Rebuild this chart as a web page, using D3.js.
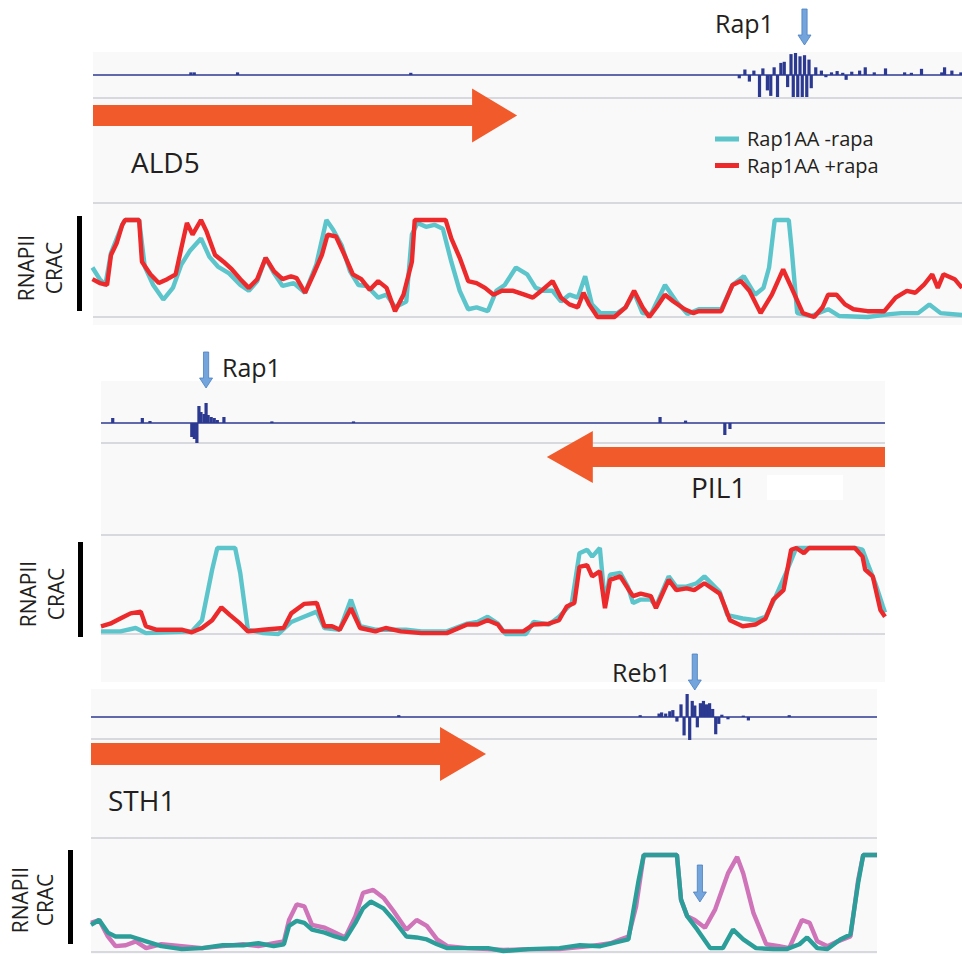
<!DOCTYPE html>
<html>
<head>
<meta charset="utf-8">
<script src="https://cdn.jsdelivr.net/npm/d3@7"></script>
<style>
  body { margin: 0; background: #fff; }
  text { font-family: "Open Sans", sans-serif; fill: #231f20; }
</style>
</head>
<body>
<svg id="svg_1"></svg>
<script>
// ---- data (positions are genomic bins along each locus) ----
var seriesNames = ["Rap1AA -rapa", "Rap1AA +rapa"];
var geneNames = ["ALD5", "PIL1", "STH1"];
var factorNames = ["Rap1", "Rap1", "Reb1"];

// ALD5 locus
var ald5ChipPos = [197,203,280,588,1172,1182,1190,1198,1208,1214,1222,1228,1234,1240,1246,1252,1258,1264,1268,1272,1276,1280,1284,1288,1292,1296,1300,1308,1318,1326,1336,1346,1356,1362,1372,1386,1396,1412,1432,1466,1478,1496,1532,1537,1550,1566];
var ald5ChipVal = [0.12,0.12,0.12,0.1,-0.15,0.25,-0.3,0.2,-1.0,0.3,-0.7,-0.95,0.35,-1.0,0.55,0.6,-0.55,0.95,-1.0,1.0,-1.0,0.85,-1.0,0.9,-1.0,0.7,-0.6,0.35,0.2,-0.1,0.12,0.18,0.1,-0.22,0.15,0.2,0.35,0.12,0.3,0.12,0.1,0.28,0.12,0.35,0.2,0.12];
var ald5MinusPos = [22,35,45,55,75,80,105,115,130,148,165,180,195,215,230,245,265,285,300,315,330,345,360,380,400,420,438,450,465,480,495,510,530,545,560,580,590,600,615,630,645,660,675,690,705,725,740,755,775,795,810,825,840,855,870,885,898,910,925,955,970,985,1000,1015,1040,1060,1080,1100,1140,1160,1180,1200,1215,1225,1235,1260,1265,1275,1300,1330,1350,1400,1440,1460,1490,1510,1530,1568];
var ald5MinusVal = [0.51,0.39,0.33,0.66,0.95,1.0,1.0,0.52,0.33,0.18,0.30,0.54,0.68,0.81,0.62,0.52,0.45,0.33,0.27,0.37,0.61,0.45,0.32,0.35,0.25,0.54,1.0,0.90,0.74,0.47,0.33,0.32,0.20,0.23,0.10,0.16,0.85,0.97,0.93,0.95,0.91,0.57,0.27,0.08,0.10,0.06,0.27,0.33,0.51,0.44,0.30,0.27,0.27,0.16,0.23,0.20,0.42,0.13,0.04,0.04,0.10,0.25,0.04,0.03,0.33,0.16,0.03,0.08,0.08,0.33,0.42,0.23,0.30,0.51,1.0,1.0,0.71,0.04,0.01,0.08,0.01,0.0,0.03,0.04,0.04,0.13,0.04,0.02];
var ald5PlusPos = [22,35,48,55,65,75,80,105,110,125,140,155,170,180,190,200,215,225,240,255,270,285,300,315,330,345,360,375,385,400,415,430,440,455,470,485,500,515,530,545,560,575,590,595,650,660,675,690,705,720,735,750,770,790,805,820,840,855,870,885,895,905,920,950,970,985,1000,1012,1025,1040,1055,1075,1090,1100,1140,1160,1175,1190,1210,1230,1250,1265,1285,1305,1320,1330,1345,1360,1375,1400,1430,1450,1470,1485,1500,1515,1525,1535,1555,1568];
var ald5PlusVal = [0.39,0.35,0.33,0.64,0.76,0.95,1.0,1.0,0.57,0.44,0.35,0.39,0.44,0.71,0.97,0.85,1.0,0.88,0.64,0.57,0.49,0.39,0.30,0.39,0.61,0.47,0.39,0.42,0.40,0.25,0.44,0.64,0.85,0.83,0.64,0.44,0.39,0.28,0.37,0.30,0.06,0.23,0.57,1.0,1.0,0.81,0.61,0.37,0.35,0.30,0.23,0.27,0.27,0.23,0.20,0.27,0.37,0.20,0.13,0.10,0.25,0.13,0,0,0.10,0.27,0.10,0,0.10,0.23,0.16,0.08,0.04,0.06,0.06,0.33,0.37,0.27,0.04,0.23,0.49,0.30,0.04,0,0.10,0.23,0.23,0.13,0.08,0.06,0.06,0.20,0.27,0.25,0.33,0.44,0.30,0.44,0.39,0.30];

// PIL1 locus
var pil1ChipPos = [45,103,118,200,205,210,214,218,224,228,232,238,244,250,263,357,517,1118,1168,1245,1255];
var pil1ChipVal = [0.25,0.25,0.1,-0.7,-0.8,-1.0,0.85,0.55,0.45,1.0,0.4,0.3,0.25,0.15,0.3,0.08,0.08,0.3,0.12,-0.6,-0.3];
var pil1MinusPos = [22,60,90,110,150,200,220,240,250,285,295,310,340,370,395,420,445,460,490,512,530,560,620,650,700,740,760,780,800,815,855,870,900,920,945,960,975,985,1000,1010,1020,1040,1055,1065,1080,1100,1110,1135,1150,1170,1190,1205,1235,1250,1280,1305,1325,1345,1365,1385,1500,1515,1525,1540,1555,1559];
var pil1MinusVal = [0.03,0.03,0.07,0.01,0.02,0.03,0.16,0.75,1.0,1.0,0.71,0.05,0.01,0.0,0.14,0.20,0.26,0.07,0.05,0.40,0.09,0.05,0.05,0.03,0.03,0.12,0.14,0.20,0.12,0.0,0.0,0.14,0.11,0.20,0.36,0.94,0.98,0.90,1.0,0.36,0.69,0.71,0.55,0.36,0.40,0.40,0.32,0.67,0.55,0.55,0.59,0.67,0.49,0.22,0.18,0.16,0.20,0.44,0.71,1.0,1.0,0.98,0.82,0.59,0.32,0.25];
var pil1PlusPos = [22,40,60,80,100,110,130,160,180,200,220,240,258,275,295,310,340,380,395,420,445,460,475,490,512,530,560,580,610,650,700,740,760,780,800,810,850,870,900,920,935,950,960,975,985,1000,1010,1020,1040,1055,1065,1080,1100,1110,1135,1150,1170,1185,1205,1235,1245,1255,1280,1305,1325,1340,1360,1375,1385,1400,1410,1500,1515,1520,1535,1550,1559];
var pil1PlusVal = [0.09,0.12,0.18,0.24,0.26,0.09,0.05,0.05,0.05,0.02,0.07,0.16,0.31,0.22,0.12,0.03,0.05,0.07,0.24,0.35,0.36,0.09,0.09,0.05,0.30,0.07,0.03,0.07,0.03,0.01,0.01,0.11,0.11,0.16,0.11,0.03,0.03,0.11,0.12,0.16,0.32,0.36,0.78,0.80,0.67,0.73,0.30,0.63,0.67,0.53,0.44,0.47,0.44,0.30,0.63,0.51,0.53,0.51,0.59,0.47,0.32,0.16,0.09,0.11,0.18,0.40,0.51,0.98,1.0,0.94,1.0,1.0,0.90,0.75,0.67,0.28,0.2];

// STH1 locus
var sth1ChipPos = [625,1098,1135,1140,1148,1156,1162,1170,1178,1184,1190,1195,1200,1205,1210,1216,1222,1228,1234,1240,1246,1252,1258,1270,1300,1310,1390];
var sth1ChipVal = [0.08,0.08,0.15,0.2,0.15,0.25,0.3,-0.2,0.55,-0.8,1.0,-1.0,0.7,0.5,-0.45,0.6,0.7,0.55,0.6,0.35,-0.75,-0.3,0.1,-0.1,0.06,-0.15,0.08];
var sth1MinusPos = [22,38,55,70,100,130,160,200,240,280,320,350,380,400,410,425,440,455,480,500,520,540,555,570,595,615,640,660,680,700,720,760,800,830,880,940,980,1020,1050,1075,1095,1105,1170,1178,1190,1210,1235,1260,1280,1300,1325,1360,1385,1410,1425,1445,1465,1490,1510,1525,1535,1562];
var sth1MinusVal = [0.28,0.33,0.20,0.16,0.16,0.11,0.06,0.03,0.04,0.07,0.07,0.09,0.06,0.08,0.27,0.32,0.30,0.23,0.20,0.16,0.13,0.30,0.45,0.52,0.45,0.33,0.16,0.15,0.13,0.08,0.04,0.04,0.04,0.01,0.03,0.04,0.07,0.06,0.10,0.13,0.74,1.0,1.0,0.54,0.37,0.23,0.04,0.04,0.23,0.13,0.04,0.03,0.03,0.08,0.15,0.04,0.03,0.13,0.18,0.71,1.0,1.0];
var sth1PlusPos = [22,38,55,70,90,110,130,160,200,240,280,320,350,380,400,410,425,440,455,480,500,520,540,555,575,595,615,640,660,680,700,720,760,800,830,880,940,1000,1040,1060,1075,1090,1105,1170,1178,1190,1205,1225,1245,1270,1288,1300,1320,1345,1370,1390,1415,1430,1445,1465,1485,1510,1525,1535,1562];
var sth1PlusVal = [0.30,0.33,0.16,0.06,0.07,0.11,0.04,0.08,0.06,0.04,0.06,0.08,0.06,0.09,0.11,0.33,0.49,0.47,0.28,0.25,0.20,0.15,0.37,0.61,0.64,0.56,0.42,0.23,0.33,0.27,0.13,0.06,0.04,0.03,0.02,0.03,0.03,0.06,0.09,0.13,0.16,0.47,1.0,1.0,0.54,0.37,0.33,0.25,0.44,0.81,0.98,0.81,0.40,0.08,0.06,0.04,0.33,0.30,0.11,0.06,0.11,0.16,0.74,1.0,1.0];

// ---- colours ----
var ORANGE = "#f15a2b";
var CHIP_BLUE = "#2b3990";
var GRID = "#cdcdd6";
var BG = "#f9f9f9";
var ARROW_FILL = "#73a5dc";
var ARROW_STROKE = "#4a7fc0";

var svg = d3.select("#svg_1").attr("width", 962).attr("height", 954);

function zip(pos, val) {
  return pos.map(function (p, i) { return { x: p, y: val[i] }; });
}

function markerArrow(g, x, y0, y1) {
  var hw = 6.5, hh = 10, sw = 2.6;
  g.append("path")
    .attr("d", "M" + (x - sw) + "," + y0 + "L" + (x + sw) + "," + y0 +
      "L" + (x + sw) + "," + (y1 - hh) + "L" + (x + hw) + "," + (y1 - hh) +
      "L" + x + "," + y1 + "L" + (x - hw) + "," + (y1 - hh) +
      "L" + (x - sw) + "," + (y1 - hh) + "Z")
    .attr("fill", ARROW_FILL)
    .attr("stroke", ARROW_STROKE)
    .attr("stroke-width", 0.8);
}

function drawPanel(p) {
  var g = svg.append("g");
  var xs = d3.scaleLinear().domain(p.domain).range([p.left, p.right]);

  // background
  g.append("rect")
    .attr("x", p.left).attr("y", p.bgTop)
    .attr("width", p.right - p.left).attr("height", p.bgBottom - p.bgTop)
    .attr("fill", BG);

  // separators
  [p.chipBottom, p.cracTopLine, p.cracBase].forEach(function (yy) {
    g.append("line")
      .attr("x1", p.left).attr("x2", p.right)
      .attr("y1", yy).attr("y2", yy)
      .attr("stroke", GRID).attr("stroke-width", 1.6);
  });

  // ChIP track
  var yc = d3.scaleLinear().domain([-1, 1]).range([p.chipBase + p.chipAmp, p.chipBase - p.chipAmp]);
  g.append("line")
    .attr("x1", p.left).attr("x2", p.right)
    .attr("y1", p.chipBase).attr("y2", p.chipBase)
    .attr("stroke", CHIP_BLUE).attr("stroke-width", 1.5);
  g.selectAll(".chip")
    .data(zip(p.chipPos, p.chipVal))
    .enter()
    .append("rect")
    .attr("x", function (d) { return xs(d.x) - 1.6; })
    .attr("y", function (d) { return Math.min(yc(d.y), yc(0)); })
    .attr("width", 3.2)
    .attr("height", function (d) { return Math.abs(yc(d.y) - yc(0)); })
    .attr("fill", CHIP_BLUE);

  // gene arrow
  var x0 = xs(p.geneFrom), x1 = xs(p.geneTo);
  var dir = x1 > x0 ? 1 : -1;
  var hb = x1 - dir * p.headLen;
  var pts = [[x0, p.geneY - p.bodyH], [hb, p.geneY - p.bodyH], [hb, p.geneY - p.headH],
    [x1, p.geneY], [hb, p.geneY + p.headH], [hb, p.geneY + p.bodyH], [x0, p.geneY + p.bodyH]];
  g.append("path")
    .attr("d", d3.line()(pts) + "Z")
    .attr("fill", ORANGE);

  g.append("text")
    .attr("x", p.geneLabelX).attr("y", p.geneLabelY)
    .style("font-size", "28px")
    .text(p.gene);

  if (p.whiteBox) {
    g.append("rect")
      .attr("x", p.whiteBox[0]).attr("y", p.whiteBox[1])
      .attr("width", p.whiteBox[2]).attr("height", p.whiteBox[3])
      .attr("fill", "#fff");
  }

  // CRAC traces
  var yv = d3.scaleLinear().domain([0, 1]).range([p.cracBase, p.cracTop]);
  var line = d3.line()
    .x(function (d) { return xs(d.x); })
    .y(function (d) { return yv(d.y); });
  p.traces.forEach(function (t) {
    g.append("path")
      .attr("d", line(zip(t.pos, t.val)))
      .attr("fill", "none")
      .attr("stroke", t.color)
      .attr("stroke-width", 4.4)
      .attr("stroke-linejoin", "bevel");
  });

  // left label and bar
  var lab = g.append("text")
    .attr("text-anchor", "middle")
    .attr("transform", "translate(" + p.labX + "," + p.labY + ")rotate(-90)")
    .style("font-size", "21px");
  lab.append("tspan").attr("x", 0).attr("y", 0).text("RNAPII");
  lab.append("tspan").attr("x", 0).attr("y", p.labGap).text("CRAC");
  g.append("rect")
    .attr("x", p.barX).attr("y", p.barTop)
    .attr("width", 5).attr("height", p.barBottom - p.barTop)
    .attr("fill", "#000");

  // binding factor marker
  markerArrow(g, xs(p.factorBin), p.factorTop, p.factorTop + 36);
  g.append("text")
    .attr("x", p.factorLabelX).attr("y", p.factorLabelY)
    .style("font-size", "25px")
    .text(p.factor);

  return { g: g, xs: xs, yv: yv };
}

// ALD5
drawPanel({
  domain: [23, 1568], left: 93, right: 962,
  bgTop: 52, bgBottom: 325,
  chipBase: 75, chipAmp: 22, chipBottom: 98,
  chipPos: ald5ChipPos, chipVal: ald5ChipVal,
  geneFrom: 23, geneTo: 777, geneY: 115.5, bodyH: 10.5, headH: 27, headLen: 45,
  gene: geneNames[0], geneLabelX: 131, geneLabelY: 173,
  cracTopLine: 203, cracBase: 317, cracTop: 220,
  traces: [
    { pos: ald5MinusPos, val: ald5MinusVal, color: "#5bc5cb" },
    { pos: ald5PlusPos, val: ald5PlusVal, color: "#ec2a2c" }
  ],
  labX: 34, labY: 268, labGap: 28, barX: 77, barTop: 216, barBottom: 311,
  factor: factorNames[0], factorBin: 1288, factorTop: 9, factorLabelX: 715, factorLabelY: 33
});

// legend
var legendColors = ["#5bc5cb", "#ec2a2c"];
seriesNames.forEach(function (name, i) {
  svg.append("line")
    .attr("x1", 715).attr("x2", 739)
    .attr("y1", 139 + i * 26.5).attr("y2", 139 + i * 26.5)
    .attr("stroke", legendColors[i]).attr("stroke-width", 5);
  svg.append("text")
    .attr("x", 747).attr("y", 146 + i * 26.5)
    .style("font-size", "20px")
    .text(name);
});

// PIL1
drawPanel({
  domain: [22, 1559], left: 101, right: 885,
  bgTop: 381, bgBottom: 682,
  chipBase: 423, chipAmp: 20, chipBottom: 443,
  chipPos: pil1ChipPos, chipVal: pil1ChipVal,
  geneFrom: 1559, geneTo: 896, geneY: 457, bodyH: 10, headH: 26, headLen: 46,
  gene: geneNames[1], geneLabelX: 691, geneLabelY: 498,
  whiteBox: [767, 475, 76, 25],
  cracTopLine: 535, cracBase: 634, cracTop: 548,
  traces: [
    { pos: pil1MinusPos, val: pil1MinusVal, color: "#5bc5cb" },
    { pos: pil1PlusPos, val: pil1PlusVal, color: "#ec2a2c" }
  ],
  labX: 36, labY: 594, labGap: 28, barX: 78, barTop: 542, barBottom: 637,
  factor: factorNames[1], factorBin: 228, factorTop: 352, factorLabelX: 222, factorLabelY: 377
});

// STH1
var sth = drawPanel({
  domain: [22, 1562], left: 91, right: 877,
  bgTop: 689, bgBottom: 954,
  chipBase: 717, chipAmp: 23, chipBottom: 739,
  chipPos: sth1ChipPos, chipVal: sth1ChipVal,
  geneFrom: 22, geneTo: 796, geneY: 754, bodyH: 11, headH: 27, headLen: 46,
  gene: geneNames[2], geneLabelX: 108, geneLabelY: 811,
  cracTopLine: 838, cracBase: 952, cracTop: 855,
  traces: [
    { pos: sth1PlusPos, val: sth1PlusVal, color: "#cf74b9" },
    { pos: sth1MinusPos, val: sth1MinusVal, color: "#2c9e99" }
  ],
  labX: 28, labY: 900, labGap: 25, barX: 68, barTop: 850, barBottom: 944,
  factor: factorNames[2], factorBin: 1205, factorTop: 654, factorLabelX: 612, factorLabelY: 682
});
markerArrow(sth.g, sth.xs(1215), 865, 902);
</script>
</body>
</html>
